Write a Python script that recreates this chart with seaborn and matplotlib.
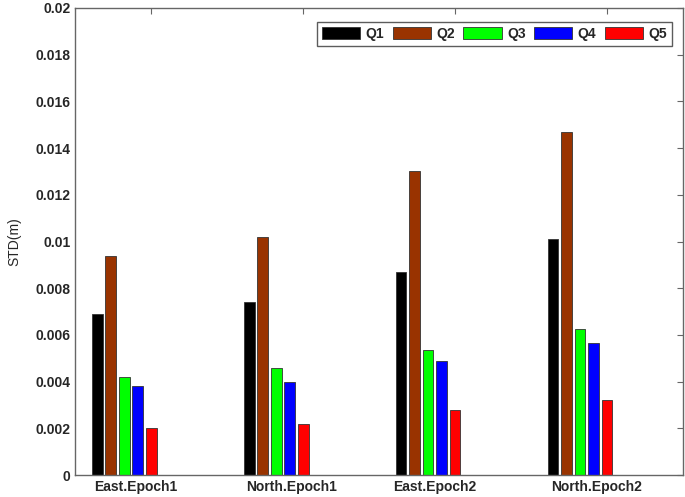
import numpy as np
import pandas as pd
import matplotlib
matplotlib.use('Agg')
import matplotlib.pyplot as plt
import matplotlib.transforms as mtransforms
from matplotlib.patches import Patch
import seaborn as sns

# 데이터
groups = ['East.Epoch1', 'North.Epoch1', 'East.Epoch2', 'North.Epoch2']
q1 = [0.0069, 0.0074, 0.0087, 0.0101]
q2 = [0.0094, 0.0102, 0.0130, 0.0147]
q3 = [0.0042, 0.0046, 0.00535, 0.00625]
q4 = [0.0038, 0.0040, 0.0049, 0.00565]
q5 = [0.0020, 0.0022, 0.0028, 0.0032]
# 빈 열 (높이 0인 막대, 원본 그림의 기준선 위에 보임)
q6 = [0, 0, 0, 0]
q7 = [0, 0, 0, 0]
q8 = [0, 0, 0, 0]
q9 = [0, 0, 0, 0]

series = ['Q1', 'Q2', 'Q3', 'Q4', 'Q5']
empty = ['E1', 'E2', 'E3', 'E4']
colors = ['#000000', '#993300', '#00ff00', '#0000ff', '#ff0000']

rows = []
for name, vals in zip(series + empty, [q1, q2, q3, q4, q5, q6, q7, q8, q9]):
    for g, v in zip(groups, vals):
        rows.append({'group': g, 'series': name, 'std': v})
df = pd.DataFrame(rows)

palette = dict(zip(series, colors))
for e in empty:
    palette[e] = '#ffffff'

sns.set_style('white')
plt.rcParams['font.family'] = ['Liberation Sans', 'DejaVu Sans']

fig = plt.figure(figsize=(6.85, 4.97), dpi=100)
ax = fig.add_axes([0.110, 0.044, 0.887, 0.940])

sns.barplot(data=df, x='group', y='std', hue='series', order=groups,
            hue_order=series + empty, palette=palette, width=0.8, gap=0.2,
            saturation=1, edgecolor='#333333', linewidth=0.6, legend=False, ax=ax)

ax.set_xlim(-0.5, 3.5)
ax.set_ylim(0, 0.02)
ax.set_yticks(np.arange(0, 0.0201, 0.002))
ax.set_yticklabels(['0', '0.002', '0.004', '0.006', '0.008', '0.01',
                    '0.012', '0.014', '0.016', '0.018', '0.02'])
ax.set_xlabel('')
ax.set_ylabel('STD(m)', fontsize=10, labelpad=10)

for s in ax.spines.values():
    s.set_color('#666666')
    s.set_linewidth(1.0)
ax.tick_params(axis='both', direction='in', length=4, width=0.8, color='#666666',
               top=True, right=True, labelsize=10)
for lab in ax.get_yticklabels() + ax.get_xticklabels():
    lab.set_fontweight('bold')

# 원본의 x 라벨이 왼쪽으로 약간 치우쳐 있음
shifts = [-16, -12, -20, -10]
for lab, dx in zip(ax.get_xticklabels(), shifts):
    lab.set_transform(lab.get_transform() + mtransforms.ScaledTranslation(dx / 100, 0, fig.dpi_scale_trans))

handles = [Patch(facecolor=c, edgecolor='#333333', linewidth=0.6) for c in colors]
leg = ax.legend(handles, series, loc='upper right', bbox_to_anchor=(0.982, 0.970),
                ncol=5, frameon=True, fancybox=False, borderaxespad=0,
                handlelength=2.75, handleheight=1.0, handletextpad=0.4,
                columnspacing=0.6, borderpad=0.35,
                prop={'weight': 'bold', 'size': 10})
leg.get_frame().set_edgecolor('#333333')
leg.get_frame().set_linewidth(1.0)

fig.savefig('out.png', dpi=100)
